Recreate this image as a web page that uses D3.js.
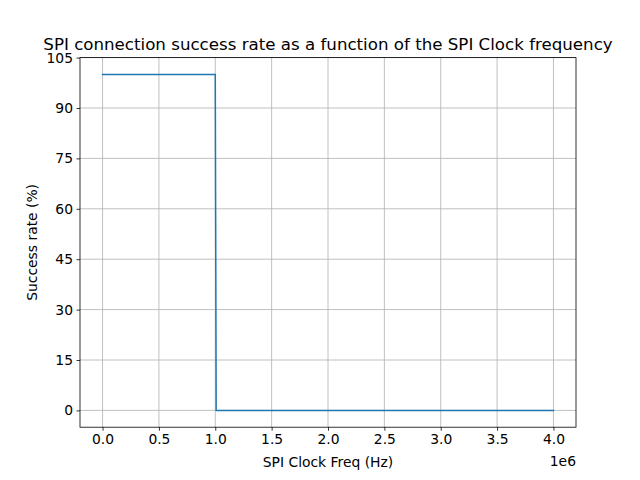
<!DOCTYPE html>
<html><head><meta charset="utf-8">
<script src="https://cdn.jsdelivr.net/npm/d3@7"></script>
<style>body{margin:0;background:#fff}svg{display:block}text{font-family:"DejaVu Sans",sans-serif}</style>
</head><body>
<svg id="c" width="640" height="480"></svg>
<script>
const freqHz = [0, 1.0e6, 1.008e6, 4.0e6];
const successRate = [100, 100, 0, 0];
const xTicks = [0, 0.5e6, 1.0e6, 1.5e6, 2.0e6, 2.5e6, 3.0e6, 3.5e6, 4.0e6];
const yTicks = [0, 15, 30, 45, 60, 75, 90, 105];
const titleText = "SPI connection success rate as a function of the SPI Clock frequency";
const xLabel = "SPI Clock Freq (Hz)";
const yLabel = "Success rate (%)";

const svg = d3.select("#c");
const L = 80, R = 576, T = 57.6, B = 427.2;
const x = d3.scaleLinear().domain([-0.2e6, 4.2e6]).range([L, R]);
const y = d3.scaleLinear().domain([-5, 105]).range([B, T]);

// grid
const g = svg.append("g");
g.selectAll(".gx").data(xTicks).enter().append("line")
  .attr("x1", d => x(d)).attr("x2", d => x(d)).attr("y1", T).attr("y2", B)
  .attr("stroke", "#b0b0b0").attr("stroke-width", 0.8);
g.selectAll(".gy").data(yTicks).enter().append("line")
  .attr("y1", d => y(d)).attr("y2", d => y(d)).attr("x1", L).attr("x2", R)
  .attr("stroke", "#b0b0b0").attr("stroke-width", 0.8);

// line
const data = freqHz.map((f, i) => [f, successRate[i]]);
svg.append("path").datum(data)
  .attr("d", d3.line().x(d => x(d[0])).y(d => y(d[1])))
  .attr("fill", "none").attr("stroke", "#1f77b4").attr("stroke-width", 1.5)
  .attr("stroke-linecap", "square");

// axes
const xAxis = d3.axisBottom(x).tickValues(xTicks).tickSize(3.5).tickPadding(3.5)
  .tickFormat(d => (d / 1e6).toFixed(1));
const yAxis = d3.axisLeft(y).tickValues(yTicks).tickSize(3.5).tickPadding(3.5)
  .tickFormat(d3.format("d"));
const gx = svg.append("g").attr("transform", `translate(0,${B})`).call(xAxis);
const gy = svg.append("g").attr("transform", `translate(${L},0)`).call(yAxis);
[gx, gy].forEach(a => {
  a.select(".domain").remove();
  a.selectAll("line").attr("stroke", "#000").attr("stroke-width", 0.8);
  a.selectAll("text").attr("font-size", "13.89px").attr("fill", "#000")
    .style("font-family", "DejaVu Sans, sans-serif");
});

// frame
svg.append("rect").attr("x", L).attr("y", T).attr("width", R - L).attr("height", B - T)
  .attr("fill", "none").attr("stroke", "#000").attr("stroke-width", 0.8);

// labels
svg.append("text").attr("x", (L + R) / 2).attr("y", 50).attr("text-anchor", "middle")
  .attr("font-size", "16.67px").text(titleText);
svg.append("text").attr("x", (L + R) / 2).attr("y", 467).attr("text-anchor", "middle")
  .attr("font-size", "13.89px").text(xLabel);
svg.append("text").attr("transform", `translate(37,${(T + B) / 2}) rotate(-90)`)
  .attr("text-anchor", "middle").attr("font-size", "13.89px").text(yLabel);
svg.append("text").attr("x", R).attr("y", 466).attr("text-anchor", "end")
  .attr("font-size", "13.89px").text("1e6");
</script>
</body></html>
